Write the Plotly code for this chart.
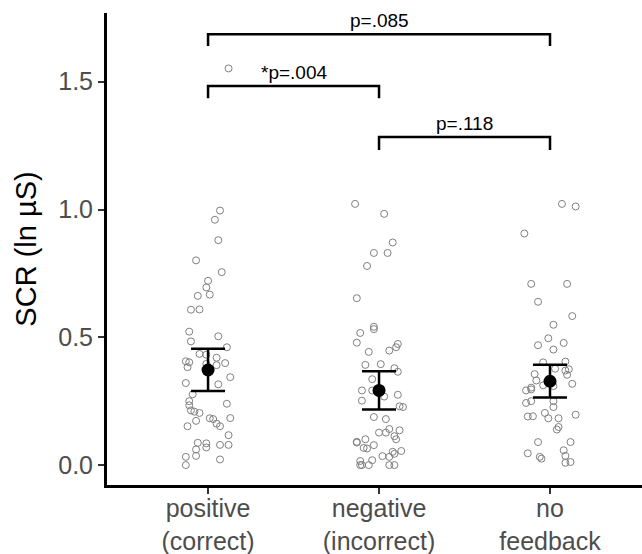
import plotly.graph_objects as go

categories = ["positive<br>(correct)", "negative<br>(incorrect)", "no<br>feedback"]

# jittered x positions (category index + jitter) and SCR values
pos_x = [1.07, 1.04, 1.06, 0.93, 1.08, 1.0, 0.99, 1.01, 0.94, 0.90, 0.95, 0.89, 1.06, 0.90,
         1.11, 0.95, 0.99, 1.05, 0.87, 0.89, 0.88, 1.10, 1.05, 0.99, 1.13, 0.87, 1.06, 0.91,
         0.89, 1.11, 0.89, 0.90, 0.92, 0.95, 0.93, 1.01, 1.03, 1.05, 1.07, 1.13, 0.88, 1.12,
         0.94, 0.99, 0.99, 1.07, 1.12, 0.93, 0.93, 0.87, 0.87, 1.07, 1.12]
pos_y = [0.996, 0.960, 0.880, 0.801, 0.755, 0.721, 0.695, 0.667, 0.662, 0.608, 0.609, 0.522,
         0.504, 0.484, 0.461, 0.435, 0.432, 0.420, 0.406, 0.402, 0.383, 0.399, 0.391, 0.396,
         0.344, 0.321, 0.316, 0.277, 0.250, 0.240, 0.234, 0.214, 0.209, 0.204, 0.173, 0.183,
         0.180, 0.162, 0.152, 0.184, 0.152, 0.117, 0.087, 0.085, 0.069, 0.079, 0.079, 0.061,
         0.036, 0.032, 0.000, 0.022, 1.552]

neg_x = [1.86, 2.03, 2.08, 1.97, 2.05, 1.93, 1.87, 1.97, 1.97, 1.89, 1.87, 2.11, 2.10, 2.06,
         1.94, 1.92, 2.01, 2.09, 2.11, 1.96, 1.90, 1.96, 2.03, 2.11, 1.90, 2.12, 2.14, 1.97,
         2.04, 2.06, 2.12, 2.00, 2.04, 2.09, 2.10, 1.87, 1.87, 1.92, 1.97, 1.91, 1.93, 2.13,
         2.08, 2.09, 2.02, 2.06, 1.96, 1.89, 1.89, 1.90, 1.94, 2.06, 2.09]
neg_y = [1.022, 0.983, 0.871, 0.830, 0.830, 0.779, 0.653, 0.541, 0.532, 0.517, 0.479, 0.474,
         0.461, 0.448, 0.443, 0.392, 0.395, 0.379, 0.365, 0.336, 0.292, 0.292, 0.268, 0.275,
         0.252, 0.230, 0.227, 0.188, 0.180, 0.141, 0.136, 0.127, 0.127, 0.113, 0.101, 0.091,
         0.088, 0.101, 0.078, 0.067, 0.065, 0.055, 0.052, 0.044, 0.035, 0.032, 0.019, 0.016,
         0.000, 0.000, 0.000, 0.000, 0.000]

nof_x = [3.07, 3.15, 2.85, 2.89, 3.10, 2.93, 3.13, 3.02, 2.99, 3.08, 2.93, 3.02, 2.96, 3.09,
         3.11, 3.09, 3.10, 2.91, 2.92, 3.03, 3.13, 2.89, 2.86, 2.89, 3.02, 2.96, 2.89, 2.86,
         3.02, 3.02, 2.97, 3.15, 2.87, 2.90, 2.99, 3.05, 3.05, 3.04, 2.93, 3.12, 2.87, 2.94,
         2.95, 3.08, 3.09, 3.12, 3.09]
nof_y = [1.022, 1.012, 0.906, 0.709, 0.709, 0.639, 0.583, 0.549, 0.496, 0.478, 0.469, 0.452,
         0.402, 0.405, 0.375, 0.370, 0.353, 0.356, 0.331, 0.377, 0.318, 0.303, 0.292, 0.296,
         0.309, 0.312, 0.250, 0.243, 0.250, 0.227, 0.204, 0.197, 0.190, 0.191, 0.183, 0.183,
         0.149, 0.139, 0.090, 0.090, 0.046, 0.032, 0.025, 0.058, 0.036, 0.012, 0.009]

means = [0.372, 0.292, 0.328]
err_upper = [0.455, 0.367, 0.393]
err_lower = [0.290, 0.217, 0.264]

# significance brackets: (x start, x end, bar y, tick bottom y, label)
brk_x0 = [1, 1, 2]
brk_x1 = [3, 2, 3]
brk_top = [1.686, 1.483, 1.284]
brk_bot = [1.640, 1.435, 1.233]
brk_label = ["p=.085", "*p=.004", "p=.118"]

FONT = "Liberation Sans, Arial, sans-serif"

fig = go.Figure()

for xs, ys in [(pos_x, pos_y), (neg_x, neg_y), (nof_x, nof_y)]:
    fig.add_trace(go.Scatter(
        x=xs, y=ys, mode="markers",
        marker=dict(symbol="circle-open", size=7, color="#808080", line=dict(width=1)),
        showlegend=False, hoverinfo="skip"))

fig.add_trace(go.Scatter(
    x=[1, 2, 3], y=means, mode="markers",
    marker=dict(size=13, color="black"),
    error_y=dict(type="data", symmetric=False,
                 array=[u - m for u, m in zip(err_upper, means)],
                 arrayminus=[m - l for l, m in zip(err_lower, means)],
                 color="black", thickness=2.5, width=17),
    showlegend=False))

for x0, x1, yt, yb, lab in zip(brk_x0, brk_x1, brk_top, brk_bot, brk_label):
    fig.add_trace(go.Scatter(
        x=[x0, x0, x1, x1], y=[yb, yt, yt, yb], mode="lines",
        line=dict(color="black", width=2.5), showlegend=False, hoverinfo="skip"))
    fig.add_annotation(x=(x0 + x1) / 2, y=yt, text=lab, showarrow=False,
                       yanchor="bottom", yshift=1,
                       font=dict(family=FONT, size=19, color="black"))

fig.update_layout(
    width=642, height=554,
    margin=dict(l=107, r=0, t=13, b=69),
    plot_bgcolor="white", paper_bgcolor="white",
    font=dict(family=FONT),
)
fig.update_xaxes(
    range=[0.409, 3.538], tickvals=[1, 2, 3], ticktext=categories, automargin=False,
    showline=True, linecolor="black", linewidth=3, showgrid=False, zeroline=False,
    ticks="outside", ticklen=6, tickwidth=2, tickcolor="#333333", ticklabelstandoff=-7,
    tickfont=dict(size=25, color="#4d4d4d"))
fig.update_yaxes(
    range=[-0.078, 1.769], tickvals=[0, 0.5, 1.0, 1.5], ticktext=["0.0", "0.5", "1.0", "1.5"],
    automargin=False,
    showline=True, linecolor="black", linewidth=3, showgrid=False, zeroline=False,
    ticks="outside", ticklen=6, tickwidth=2, tickcolor="#333333",
    tickfont=dict(size=25, color="#4d4d4d"),
    title=dict(text="SCR (ln µS)", font=dict(size=29, color="black"), standoff=14))

fig.write_html("out.html", config={"displayModeBar": False},
               post_script="document.body.style.margin='0';")
